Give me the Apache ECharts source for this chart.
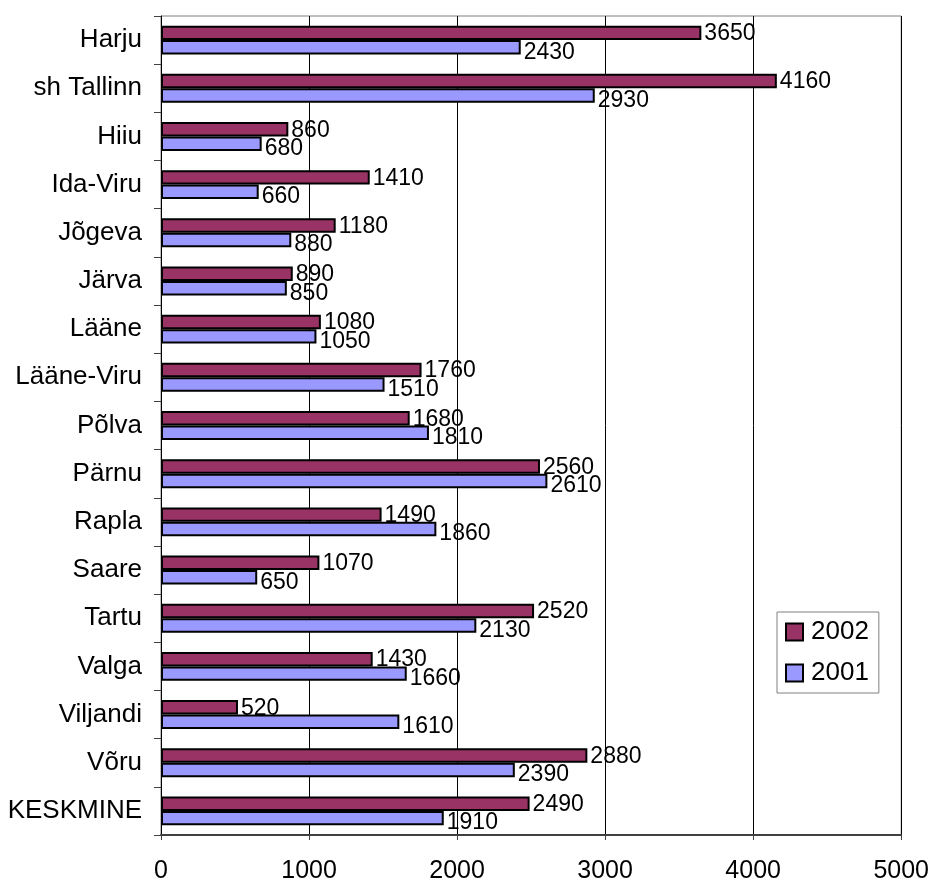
<!DOCTYPE html>
<html>
<head>
<meta charset="utf-8">
<script src="https://cdn.jsdelivr.net/npm/echarts@6/dist/echarts.min.js"></script>
<style>
html,body{margin:0;padding:0;background:#fff;}
#chart{width:932px;height:884px;}
</style>
</head>
<body>
<div id="chart"></div>
<script>
const categories = ["Harju","sh Tallinn","Hiiu","Ida-Viru","Jõgeva","Järva","Lääne","Lääne-Viru","Põlva","Pärnu","Rapla","Saare","Tartu","Valga","Viljandi","Võru","KESKMINE"];
const values2002 = [3650,4160,860,1410,1180,890,1080,1760,1680,2560,1490,1070,2520,1430,520,2880,2490];
const values2001 = [2430,2930,680,660,880,850,1050,1510,1810,2610,1860,650,2130,1660,1610,2390,1910];
const xTicks = [0,1000,2000,3000,4000,5000];

const FONT = '"Liberation Sans", Arial, sans-serif';
const chart = echarts.init(document.getElementById('chart'));
chart.setOption({
  animation: false,
  textStyle: {fontFamily: FONT, color: '#000'},
  grid: {left: 161, top: 16, right: 30, bottom: 49, show: true, borderColor: '#808080', borderWidth: 1},
  legend: {
    orient: 'vertical', left: 777, top: 612,
    data: ['2002','2001'],
    itemWidth: 17, itemHeight: 17, itemGap: 15,
    padding: [7, 10, 7, 8],
    borderColor: '#808080', borderWidth: 1, backgroundColor: '#fff',
    icon: 'rect',
    textStyle: {fontFamily: FONT, fontSize: 26, color: '#000', lineHeight: 26, padding: [0,0,0,3]}
  },
  xAxis: {
    type: 'value', min: xTicks[0], max: xTicks[xTicks.length-1], interval: 1000,
    axisLine: {show: true, lineStyle: {color: '#404040', width: 2}},
    axisTick: {show: true, length: 5, lineStyle: {color: '#404040'}},
    splitLine: {show: true, lineStyle: {color: '#000', width: 1}},
    axisLabel: {fontFamily: FONT, fontSize: 25, color: '#000', margin: 24, formatter: v => String(v)}
  },
  yAxis: {
    type: 'category', data: categories, inverse: true,
    axisLine: {show: true, lineStyle: {color: '#000', width: 1}},
    axisTick: {show: true, length: 7, lineStyle: {color: '#404040'}},
    axisLabel: {fontFamily: FONT, fontSize: 26, color: '#000', margin: 19}
  },
  series: [
    {
      name: '2002', type: 'bar', data: values2002,
      barGap: '0%', barCategoryGap: '40%',
      itemStyle: {color: '#993366', borderColor: '#000', borderWidth: 2},
      label: {show: true, position: 'right', distance: 3, offset: [0, 1], fontFamily: FONT, fontSize: 23, color: '#000'}
    },
    {
      name: '2001', type: 'bar', data: values2001,
      barGap: '0%', barCategoryGap: '40%',
      itemStyle: {color: '#9999FF', borderColor: '#000', borderWidth: 2},
      label: {show: true, position: 'right', distance: 3, offset: [0, 5], fontFamily: FONT, fontSize: 23, color: '#000'}
    }
  ]
});
</script>
</body>
</html>
